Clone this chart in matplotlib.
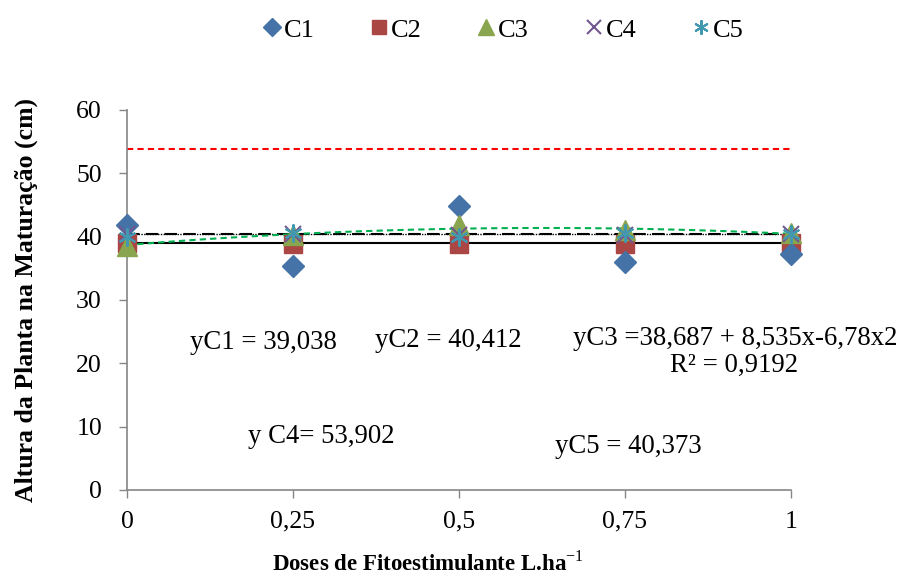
import matplotlib
matplotlib.use("Agg")
import matplotlib.pyplot as plt
import numpy as np

plt.rcParams['font.family'] = ['Liberation Serif', 'DejaVu Serif']
plt.rcParams['mathtext.fontset'] = 'custom'
plt.rcParams['mathtext.rm'] = 'Liberation Serif'
plt.rcParams['mathtext.bf'] = 'Liberation Serif:bold'

doses = [0, 0.25, 0.5, 0.75, 1]
tick_labels = ['0', '0,25', '0,5', '0,75', '1']
c1 = [41.8, 35.4, 44.8, 36.0, 37.3]
c2 = [39.0, 38.9, 38.8, 38.9, 39.0]
c3 = [38.6, 40.2, 41.9, 41.0, 40.6]
c4 = [40.4, 40.5, 40.3, 40.3, 40.5]
c5 = [40.0, 40.6, 40.0, 40.6, 40.4]

yc1 = 39.038
yc2 = 40.412
yc4 = 53.902
yc5 = 40.373
c3_coef = [38.687, 8.535, -6.78]

fig = plt.figure(figsize=(9.01, 5.75), dpi=100)
ax = fig.add_axes([127/901, 85/575, 664/901, 380/575])

# trend lines
ax.plot([0, 1], [yc1, yc1], color='black', lw=1.5, ls='-', zorder=2)
ax.plot([0, 1], [yc2, yc2], color='black', lw=1.5, ls=(0, (6, 3)), zorder=2)
ax.plot([0, 1], [yc5, yc5], color='black', lw=1.0, ls=(0, (1, 1)), zorder=2)
ax.plot([0, 1], [yc4, yc4], color='#FF0000', lw=1.5, ls=(0, (3, 2)), zorder=2)
xs = np.linspace(0, 1, 100)
ax.plot(xs, c3_coef[0] + c3_coef[1]*xs + c3_coef[2]*xs**2, color='#00B050',
        lw=1.5, ls=(0, (3, 2)), zorder=2)

ax.plot(doses, c2, ls='none', marker='s', ms=13, color='#AA4643', label='C2', zorder=3, clip_on=False)
ax.plot(doses, c3, ls='none', marker='^', ms=14, color='#89A54E', label='C3', zorder=4, clip_on=False)
ax.plot(doses, c1, ls='none', marker='D', ms=11, color='#4572A7', label='C1', zorder=3, clip_on=False)
ax.plot(doses, c4, ls='none', marker='x', ms=12, mew=1.5, color='#71588F', label='C4', zorder=5, clip_on=False)
ax.plot(doses, c5, ls='none', marker=(6, 2, 0), ms=13, mew=1.5, color='#4198AF', label='C5', zorder=6, clip_on=False)

ax.set_xlim(0, 1)
ax.set_ylim(0, 60)
ax.set_xticks(doses)
ax.set_xticklabels(tick_labels)
ax.set_yticks(range(0, 61, 10))
ax.tick_params(axis='both', labelsize=18.5, direction='out', length=6, color='#868686', width=1)
ax.tick_params(axis='x', pad=9)
ax.tick_params(axis='y', pad=12)
for s in ['top', 'right']:
    ax.spines[s].set_visible(False)
for s in ['left', 'bottom']:
    ax.spines[s].set_color('#868686')
    ax.spines[s].set_linewidth(1.2)

ax.set_ylabel('Altura da Planta na Maturação (cm)', fontsize=18.5, fontweight='bold')
ax.yaxis.set_label_coords((38 - 127) / 664, 0.5)
ax.set_xlabel('Doses de Fitoestimulante L.ha$^{\\mathrm{-1}}$', fontsize=16.5, fontweight='bold')
ax.xaxis.set_label_coords((428 - 127) / 664, -(551 - 490) / 380)

tk = dict(fontsize=19.3, transform=ax.transData, va='center')
ax.text(0.095, 23.3, 'yC1 = 39,038', **tk)
ax.text(0.373, 23.6, 'yC2 = 40,412', **tk)
ax.text(0.672, 23.9, 'yC3 =38,687 + 8,535x-6,78x2', **tk)
ax.text(0.818, 19.6, 'R² = 0,9192', **tk)
ax.text(0.182, 8.4, 'y C4= 53,902', **tk)
ax.text(0.645, 6.8, 'yC5 = 40,373', **tk)

handles, labels = ax.get_legend_handles_labels()
order = [labels.index(l) for l in ['C1', 'C2', 'C3', 'C4', 'C5']]
leg = fig.legend([handles[i] for i in order], [labels[i] for i in order],
                 loc='center', bbox_to_anchor=(503/901, 1 - 30/575), ncol=5,
                 frameon=False, fontsize=19, handlelength=0.7, handletextpad=0.1,
                 columnspacing=2.1, markerscale=0.8)

fig.savefig('out.png', dpi=100)
